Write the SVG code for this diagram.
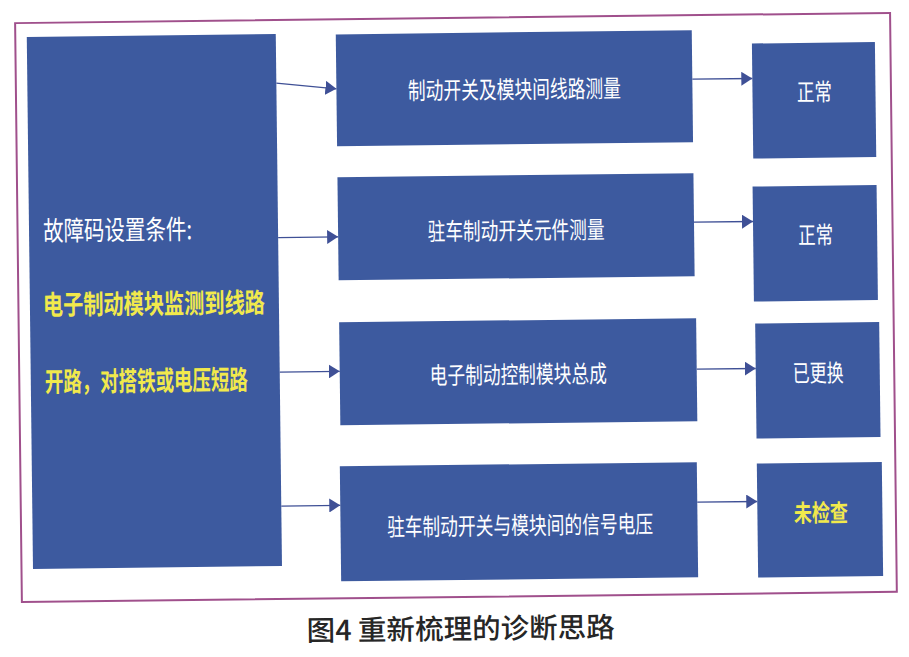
<svg xmlns="http://www.w3.org/2000/svg" width="909" height="657" viewBox="0 0 909 657">
<style>
.box{fill:#3d5a9f;}
.frame{fill:#ffffff;stroke:#a0508c;stroke-width:2;}
.t{font-family:"Noto Sans CJK SC","Noto Sans",sans-serif;fill:#ffffff;font-size:24px;}
.m{text-anchor:middle;}
.y{fill:#f1e94c;font-weight:bold;}
.big{font-size:27px;}
.conn{stroke:#3f5096;stroke-width:1.3;fill:none;marker-end:url(#ah);}
.title{font-family:"Noto Sans CJK SC","Noto Sans",sans-serif;font-size:28px;font-weight:500;fill:#262626;text-anchor:middle;}
</style>
<defs>
<marker id="ah" markerUnits="userSpaceOnUse" markerWidth="12" markerHeight="14" viewBox="0 0 12 14" refX="11" refY="7" orient="auto">
<path d="M0,0 L11,7 L0,14 Z" fill="#3f5096"/>
</marker>
</defs>
<rect width="909" height="657" fill="#ffffff"/>
<g transform="rotate(-0.67 455 310)">
<rect class="frame" x="18.5" y="18" width="875" height="579"/>
<g id="left">
<rect class="box" x="30" y="32" width="249" height="532"/>
<text class="t big" x="44" y="236" textLength="149" lengthAdjust="spacingAndGlyphs">故障码设置条件:</text>
<text class="t big y" x="43" y="310" textLength="222" lengthAdjust="spacingAndGlyphs">电子制动模块监测到线路</text>
<text class="t big y" x="44" y="387" textLength="203" lengthAdjust="spacingAndGlyphs">开路，对搭铁或电压短路</text>
</g>
<g id="m1">
<rect class="box" x="339" y="33" width="356" height="112"/>
<text class="t m" x="517" y="99" textLength="213" lengthAdjust="spacingAndGlyphs">制动开关及模块间线路测量</text>
</g>
<g id="m2">
<rect class="box" x="339" y="176" width="356" height="103"/>
<text class="t m" x="517" y="240" textLength="177" lengthAdjust="spacingAndGlyphs">驻车制动开关元件测量</text>
</g>
<g id="m3">
<rect class="box" x="339" y="321" width="357" height="103"/>
<text class="t m" x="517.5" y="384" textLength="177" lengthAdjust="spacingAndGlyphs">电子制动控制模块总成</text>
</g>
<g id="m4">
<rect class="box" x="338" y="465" width="357" height="115"/>
<text class="t m" x="517.5" y="535" textLength="266" lengthAdjust="spacingAndGlyphs">驻车制动开关与模块间的信号电压</text>
</g>
<g id="r1">
<rect class="box" x="755" y="47" width="123" height="115"/>
<text class="t m" x="817" y="105" textLength="35" lengthAdjust="spacingAndGlyphs">正常</text>
</g>
<g id="r2">
<rect class="box" x="754" y="190" width="124" height="115"/>
<text class="t m" x="816.5" y="248" textLength="35" lengthAdjust="spacingAndGlyphs">正常</text>
</g>
<g id="r3">
<rect class="box" x="755" y="327" width="124" height="115"/>
<text class="t m" x="817.5" y="386" textLength="51" lengthAdjust="spacingAndGlyphs">已更换</text>
</g>
<g id="r4">
<rect class="box" x="755" y="467" width="125" height="114"/>
<text class="t m y" x="818.5" y="526" textLength="54" lengthAdjust="spacingAndGlyphs">未检查</text>
</g>
<g id="connectors">
<line class="conn" x1="279" y1="81" x2="339" y2="87.5"/>
<line class="conn" x1="279" y1="235.5" x2="339" y2="235.5"/>
<line class="conn" x1="279" y1="370" x2="339" y2="370"/>
<line class="conn" x1="279" y1="504" x2="338" y2="504"/>
<line class="conn" x1="695" y1="82" x2="755" y2="82"/>
<line class="conn" x1="695" y1="225" x2="754" y2="225"/>
<line class="conn" x1="696" y1="372" x2="755" y2="372"/>
<line class="conn" x1="695" y1="505" x2="755" y2="505"/>
</g>
<text class="title" x="457" y="639" textLength="308" lengthAdjust="spacingAndGlyphs">图4 重新梳理的诊断思路</text>
</g>
</svg>
